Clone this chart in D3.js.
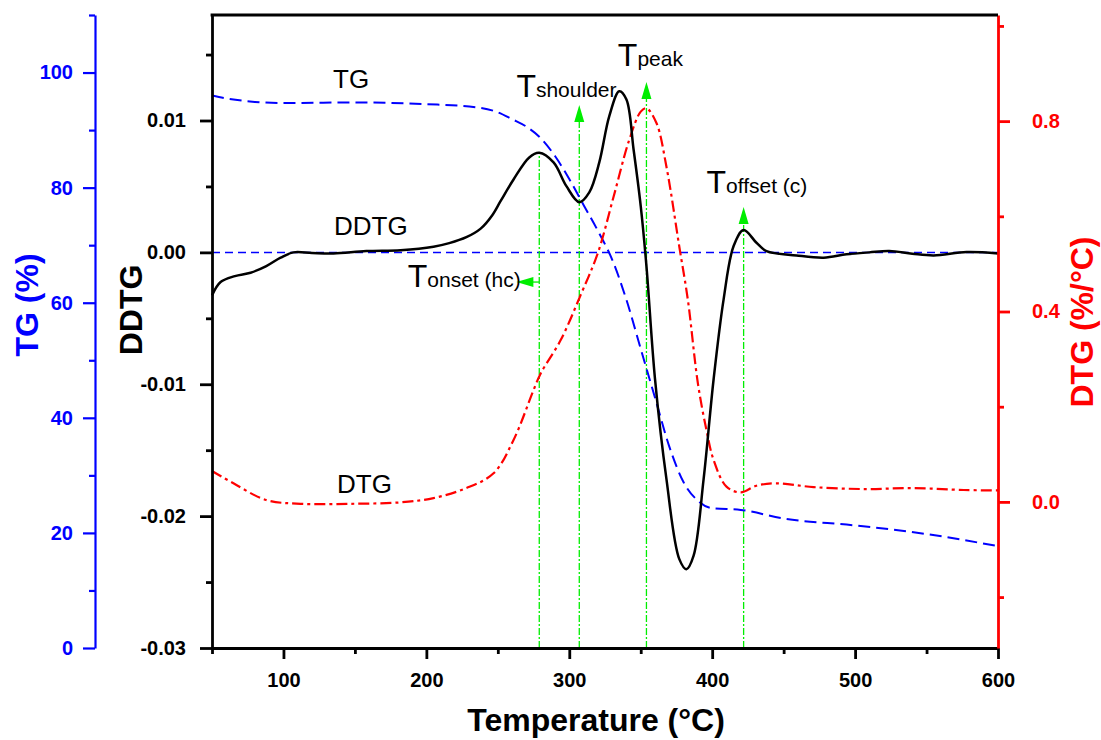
<!DOCTYPE html>
<html>
<head>
<meta charset="utf-8">
<script src="https://cdn.jsdelivr.net/npm/d3@7"></script>
<style>
  body { margin: 0; background: #fff; }
</style>
</head>
<body>
<svg width="1101" height="740"></svg>
<script>
// TG curve (%)
const tgTemp  = [50, 60, 80, 100, 150, 200, 230, 250, 260, 270, 280, 290, 300, 310, 320, 330, 340, 350, 360, 370, 380, 390, 400, 420, 450, 500, 550, 600];
const tgValue = [96.0, 95.5, 94.9, 94.7, 94.8, 94.5, 94.1, 93.1, 91.9, 90.6, 88.6, 85.5, 81.5, 77.0, 72.5, 67.5, 60.5, 52.0, 43.5, 35.0, 28.8, 25.6, 24.3, 24.0, 22.5, 21.3, 19.8, 17.7];

// DDTG curve, black solid line
const ddtgTemp  = [50, 56, 66, 77, 88, 98, 107, 120, 135, 158, 182, 205, 216, 228, 238, 246, 252, 261, 272, 279, 289, 298, 307, 314, 321, 328, 335, 340, 345, 350, 354, 360, 368, 377, 382, 387, 394, 401, 408, 415, 422, 431, 438, 459, 478, 494, 510, 524, 540, 555, 578, 600];
const ddtgValue = [-0.00326, -0.00225, -0.0018, -0.00154, -0.00104, -0.0004, 0.0, -0.00005, -0.00008, 0.0001, 0.00017, 0.00043, 0.0007, 0.00115, 0.0018, 0.0028, 0.0039, 0.00553, 0.0072, 0.00755, 0.00682, 0.00502, 0.00381, 0.00455, 0.00682, 0.01033, 0.01222, 0.01159, 0.0078, 0.00351, -0.00104, -0.00962, -0.0172, -0.02326, -0.02402, -0.023, -0.0172, -0.00962, -0.00356, 0.00048, 0.00169, 0.00073, 0.0001, -0.00023, -0.0004, -0.00015, 0.0, 0.0001, -0.0001, -0.00023, 0.00002, -0.00008];

// DTG curve (%/°C), red dash-dot line
const dtgTemp  = [50, 65, 88, 112, 147, 182, 205, 228, 247, 261, 275, 280, 294, 308, 320, 331, 342, 350, 354, 361, 368, 377, 383, 390, 396, 401, 410, 420, 431, 445, 471, 506, 541, 576, 600];
const dtgValue = [0.065, 0.039, 0.004, -0.004, -0.004, -0.001, 0.008, 0.029, 0.060, 0.130, 0.235, 0.270, 0.340, 0.435, 0.523, 0.641, 0.761, 0.820, 0.827, 0.796, 0.704, 0.536, 0.424, 0.249, 0.151, 0.088, 0.032, 0.020, 0.034, 0.039, 0.031, 0.027, 0.029, 0.025, 0.024];

// tick values
const xTicks = [100, 200, 300, 400, 500, 600];
const xMinor = [50, 150, 250, 350, 450, 550];
const ddtgTicks = [-0.03, -0.02, -0.01, 0.0, 0.01];
const ddtgMinor = [-0.025, -0.015, -0.005, 0.005, 0.015];
const tgTicks = [0, 20, 40, 60, 80, 100];
const tgMinor = [10, 30, 50, 70, 90, 110];
const dtgTicks = [0.0, 0.4, 0.8];
const dtgMinor = [-0.2, 0.2, 0.6, 1.0];

// characteristic temperatures (green markers), arrow tips on the DDTG scale
const markNames = ["onset (hc)", "shoulder", "peak", "offset (c)"];
const markTemp  = [279, 307, 354, 422];
const markTip   = [0.00754, 0.01118, 0.01292, 0.00344];
const markLabelT = [187, 263, 334, 396];
const markLabelY = [-0.00263, 0.01178, 0.01413, 0.0045];
const onsetArrowTip = 263; // onset arrow points left
const onsetArrowY = -0.00225;

// curve name labels
const curveNames = ["TG", "DDTG", "DTG"];
const curveLabelT = [134.7, 135.4, 137.5];
const curveLabelY = [0.01246, 0.00132, -0.01825];

const FONT = "'Liberation Sans', Arial, Helvetica, sans-serif";
const BLUE = "#0000ff", RED = "#ff0000", GREEN = "#00ee00";

const svg = d3.select("svg");
const plot = { left: 212, right: 998, top: 15, bottom: 648 };

const x = d3.scaleLinear().domain([50, 600]).range([plot.left, plot.right]);
const yDDTG = d3.scaleLinear().domain([-0.03, 0.018]).range([plot.bottom, plot.top]);
const yTG = d3.scaleLinear().domain([0, 110]).range([plot.bottom, plot.top]);
const yDTG = d3.scaleLinear().domain([-0.307, 1.023]).range([plot.bottom, plot.top]);

function styleAxis(g, color, width) {
    g.attr("color", color)
        .attr("font-family", FONT)
        .attr("font-size", 20)
        .attr("font-weight", "bold");
    g.select(".domain").attr("stroke-width", width);
    g.selectAll(".tick line").attr("stroke-width", width);
}

// zero line of DDTG
svg.append("line")
    .attr("x1", x(50)).attr("x2", x(600))
    .attr("y1", yDDTG(0)).attr("y2", yDDTG(0))
    .attr("stroke", BLUE)
    .attr("stroke-width", 1.5)
    .attr("stroke-dasharray", "8,5");

// green marker lines
const markers = svg.append("g");
markTemp.forEach((t, i) => {
    const px = x(t);
    const tipY = yDDTG(markTip[i]);
    markers.append("line")
        .attr("x1", px).attr("x2", px)
        .attr("y1", plot.bottom).attr("y2", i === 0 ? tipY : tipY + 10)
        .attr("stroke", GREEN)
        .attr("stroke-width", 1.3)
        .attr("stroke-dasharray", "7,2,2,2");
    if (i > 0) {
        markers.append("path")
            .attr("d", `M${px},${tipY} L${px - 5},${tipY + 17} L${px + 5},${tipY + 17} Z`)
            .attr("fill", GREEN);
    }
});
// onset arrow pointing left
{
    const y0 = yDDTG(onsetArrowY);
    const x0 = x(markTemp[0]);
    const xt = x(onsetArrowTip);
    markers.append("line")
        .attr("x1", x0).attr("x2", xt + 10)
        .attr("y1", y0).attr("y2", y0)
        .attr("stroke", GREEN)
        .attr("stroke-width", 1.3);
    markers.append("path")
        .attr("d", `M${xt},${y0} L${xt + 17},${y0 - 5} L${xt + 17},${y0 + 5} Z`)
        .attr("fill", GREEN);
}

// curves
const tgLine = d3.line()
    .x((d, i) => x(tgTemp[i]))
    .y(d => yTG(d))
    .curve(d3.curveMonotoneX);
svg.append("path")
    .attr("d", tgLine(tgValue))
    .attr("fill", "none")
    .attr("stroke", BLUE)
    .attr("stroke-width", 2)
    .attr("stroke-dasharray", "12,6");

const dtgLine = d3.line()
    .x((d, i) => x(dtgTemp[i]))
    .y(d => yDTG(d))
    .curve(d3.curveCatmullRom);
svg.append("path")
    .attr("d", dtgLine(dtgValue))
    .attr("fill", "none")
    .attr("stroke", RED)
    .attr("stroke-width", 2.2)
    .attr("stroke-dasharray", "11,4,3,4");

const ddtgLine = d3.line()
    .x((d, i) => x(ddtgTemp[i]))
    .y(d => yDDTG(d))
    .curve(d3.curveCatmullRom);
svg.append("path")
    .attr("d", ddtgLine(ddtgValue))
    .attr("fill", "none")
    .attr("stroke", "#000")
    .attr("stroke-width", 2.5);

// axes
const gx = svg.append("g")
    .attr("transform", `translate(0,${plot.bottom})`)
    .call(d3.axisBottom(x).tickValues(xTicks).tickSize(11).tickSizeOuter(0).tickPadding(14).tickFormat(d3.format("d")));
styleAxis(gx, "#000", 2.8);
const gxm = svg.append("g")
    .attr("transform", `translate(0,${plot.bottom})`)
    .call(d3.axisBottom(x).tickValues(xMinor).tickSize(6).tickSizeOuter(0).tickFormat(""));
styleAxis(gxm, "#000", 2.8);
gxm.select(".domain").remove();

const gy = svg.append("g")
    .attr("transform", `translate(${plot.left},0)`)
    .call(d3.axisLeft(yDDTG).tickValues(ddtgTicks).tickSize(12).tickSizeOuter(0).tickPadding(14).tickFormat(d => d.toFixed(2)));
styleAxis(gy, "#000", 2.8);
const gym = svg.append("g")
    .attr("transform", `translate(${plot.left},0)`)
    .call(d3.axisLeft(yDDTG).tickValues(ddtgMinor).tickSize(6).tickSizeOuter(0).tickFormat(""));
styleAxis(gym, "#000", 2.8);
gym.select(".domain").remove();

const gtg = svg.append("g")
    .attr("transform", "translate(95,0)")
    .call(d3.axisLeft(yTG).tickValues(tgTicks).tickSize(12).tickSizeOuter(0).tickPadding(10).tickFormat(d3.format("d")));
styleAxis(gtg, BLUE, 2.2);
const gtgm = svg.append("g")
    .attr("transform", "translate(95,0)")
    .call(d3.axisLeft(yTG).tickValues(tgMinor).tickSize(6).tickSizeOuter(0).tickFormat(""));
styleAxis(gtgm, BLUE, 2.2);
gtgm.select(".domain").remove();

const gdtg = svg.append("g")
    .attr("transform", `translate(${plot.right},0)`)
    .call(d3.axisRight(yDTG).tickValues(dtgTicks).tickSize(12).tickSizeOuter(0).tickPadding(22).tickFormat(d => d.toFixed(1)));
styleAxis(gdtg, RED, 2.8);
const gdtgm = svg.append("g")
    .attr("transform", `translate(${plot.right},0)`)
    .call(d3.axisRight(yDTG).tickValues(dtgMinor).tickSize(6).tickSizeOuter(0).tickFormat(""));
styleAxis(gdtgm, RED, 2.8);
gdtgm.select(".domain").remove();

// top frame line
svg.append("line")
    .attr("x1", plot.left - 1.4).attr("x2", plot.right)
    .attr("y1", plot.top).attr("y2", plot.top)
    .attr("stroke", "#000")
    .attr("stroke-width", 2.8);

// axis titles
svg.append("text")
    .attr("transform", "translate(38,305) rotate(-90)")
    .attr("text-anchor", "middle")
    .attr("font-family", FONT).attr("font-size", 32).attr("font-weight", "bold")
    .attr("fill", BLUE)
    .text("TG (%)");
svg.append("text")
    .attr("transform", "translate(142,310) rotate(-90)")
    .attr("text-anchor", "middle")
    .attr("font-family", FONT).attr("font-size", 32).attr("font-weight", "bold")
    .attr("fill", "#000")
    .text("DDTG");
svg.append("text")
    .attr("transform", "translate(1093,322) rotate(-90)")
    .attr("text-anchor", "middle")
    .attr("font-family", FONT).attr("font-size", 32).attr("font-weight", "bold")
    .attr("fill", RED)
    .text("DTG (%/°C)");
svg.append("text")
    .attr("x", 596).attr("y", 731)
    .attr("text-anchor", "middle")
    .attr("font-family", FONT).attr("font-size", 32).attr("font-weight", "bold")
    .attr("fill", "#000")
    .text("Temperature (°C)");

// curve labels
curveNames.forEach((name, i) => {
    svg.append("text")
        .attr("x", x(curveLabelT[i]))
        .attr("y", yDDTG(curveLabelY[i]))
        .attr("font-family", FONT).attr("font-size", 26)
        .attr("fill", "#000")
        .text(name);
});

// temperature labels with small suffix
markNames.forEach((name, i) => {
    const t = svg.append("text")
        .attr("x", x(markLabelT[i]))
        .attr("y", yDDTG(markLabelY[i]))
        .attr("font-family", FONT)
        .attr("fill", "#000");
    t.append("tspan").attr("font-size", 32).text("T");
    t.append("tspan").attr("font-size", 21).text(name);
});
</script>
</body>
</html>
